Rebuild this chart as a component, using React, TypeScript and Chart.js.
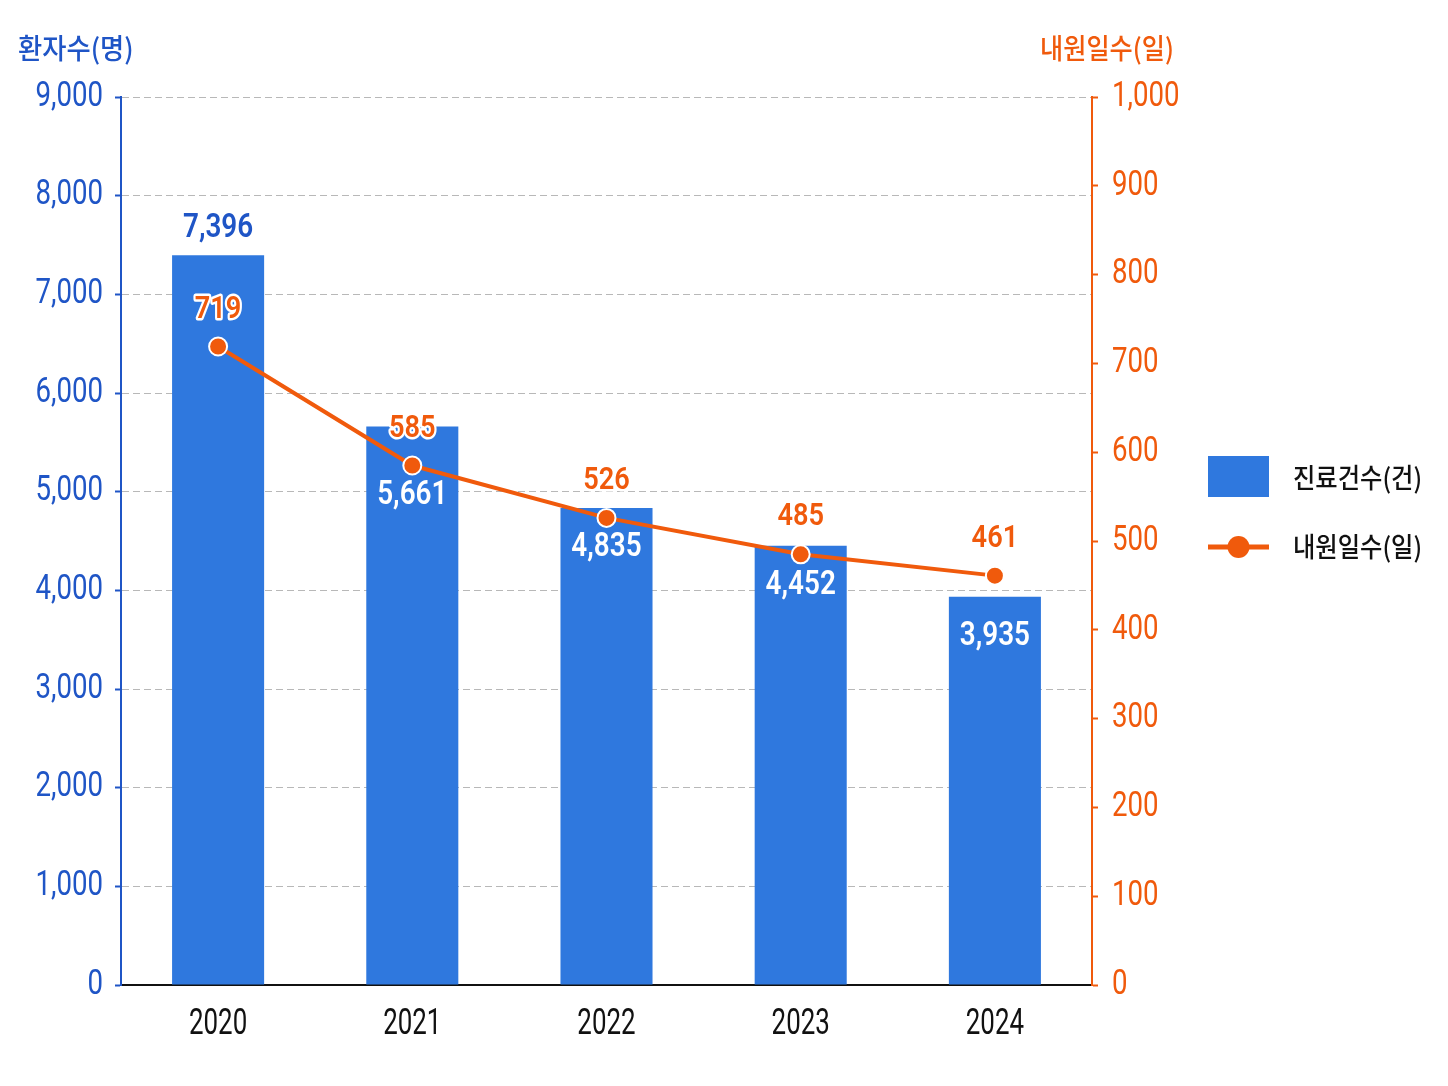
import { useEffect, useRef } from "react";
import Chart from "chart.js/auto";

const years = ["2020", "2021", "2022", "2023", "2024"];
const patientCounts = [7396, 5661, 4835, 4452, 3935];
const visitDays = [719, 585, 526, 485, 461];

const barName = "진료건수(건)";
const lineName = "내원일수(일)";
const leftTitle = "환자수(명)";
const rightTitle = "내원일수(일)";

const BLUE = "#2f78de";
const BLUE_TEXT = "#1f55c6";
const ORANGE = "#f05a0c";
const NUM_FONT = '"Roboto", "Liberation Sans", sans-serif';
const KR_FONT = '"Noto Sans CJK KR", "Noto Sans", sans-serif';

const fmt = (n) => n.toLocaleString("en-US");

// the original uses a condensed face; squeeze Roboto horizontally
function narrowText(ctx, text, x, y, align, sx, stroke) {
  ctx.save();
  ctx.translate(x, y);
  ctx.scale(sx, 1);
  ctx.textAlign = align;
  if (stroke) ctx.strokeText(text, 0, 0);
  ctx.fillText(text, 0, 0);
  ctx.restore();
}

const overlay = {
  id: "overlay",
  afterDatasetsDraw(chart) {
    const ctx = chart.ctx;
    ctx.save();
    ctx.textBaseline = "middle";

    const bars = chart.getDatasetMeta(0).data;
    const pts = chart.getDatasetMeta(1).data;

    // bar value labels
    ctx.font = `600 34px ${NUM_FONT}`;
    bars.forEach((bar, i) => {
      if (i === 0) {
        ctx.fillStyle = BLUE_TEXT;
        narrowText(ctx, fmt(patientCounts[i]), bar.x, bar.y - 27, "center", 0.82);
      } else {
        ctx.fillStyle = "#ffffff";
        const y = Math.max(bar.y + 40, pts[i].y + 30);
        narrowText(ctx, fmt(patientCounts[i]), bar.x, y, "center", 0.82);
      }
    });

    // line value labels
    ctx.font = `600 32px ${NUM_FONT}`;
    ctx.lineJoin = "round";
    ctx.strokeStyle = "#ffffff";
    ctx.lineWidth = 5;
    ctx.fillStyle = ORANGE;
    pts.forEach((p, i) => {
      narrowText(ctx, fmt(visitDays[i]), p.x, p.y - 37, "center", 0.85, true);
    });
    ctx.restore();
  },
  afterDraw(chart) {
    const ctx = chart.ctx;
    const { x, y, y1 } = chart.scales;
    ctx.save();
    ctx.textBaseline = "middle";

    // tick labels
    ctx.font = `400 35px ${NUM_FONT}`;
    ctx.fillStyle = BLUE_TEXT;
    y.ticks.forEach((t, i) => {
      narrowText(ctx, fmt(t.value), y.right - 18, y.getPixelForTick(i), "right", 0.79);
    });
    ctx.fillStyle = ORANGE;
    y1.ticks.forEach((t, i) => {
      narrowText(ctx, fmt(t.value), y1.left + 20, y1.getPixelForTick(i), "left", 0.79);
    });
    ctx.font = `400 36px ${NUM_FONT}`;
    ctx.fillStyle = "#111111";
    x.ticks.forEach((t, i) => {
      narrowText(ctx, years[i], x.getPixelForTick(i), x.top + 40, "center", 0.72);
    });

    // axis titles
    ctx.font = `500 28px ${KR_FONT}`;
    ctx.fillStyle = BLUE_TEXT;
    narrowText(ctx, leftTitle, 18, 48, "left", 0.94);
    ctx.fillStyle = ORANGE;
    narrowText(ctx, rightTitle, 1107, 48, "center", 0.9);

    // legend
    ctx.fillStyle = BLUE;
    ctx.fillRect(1208, 456, 61, 41);
    ctx.strokeStyle = ORANGE;
    ctx.lineWidth = 5;
    ctx.beginPath();
    ctx.moveTo(1208, 547);
    ctx.lineTo(1269, 547);
    ctx.stroke();
    ctx.fillStyle = ORANGE;
    ctx.beginPath();
    ctx.arc(1238.5, 547, 11, 0, Math.PI * 2);
    ctx.fill();

    ctx.font = `500 27px ${KR_FONT}`;
    ctx.fillStyle = "#111111";
    narrowText(ctx, barName, 1293, 478, "left", 0.9);
    narrowText(ctx, lineName, 1293, 547, "left", 0.9);
    ctx.restore();
  },
};

export default function App() {
  const canvasRef = useRef(null);

  useEffect(() => {
    document.body.style.margin = "0";
    const chart = new Chart(canvasRef.current, {
      type: "bar",
      data: {
        labels: years,
        datasets: [
          {
            type: "bar",
            label: barName,
            data: patientCounts,
            backgroundColor: BLUE,
            yAxisID: "y",
            categoryPercentage: 1,
            barPercentage: 0.474,
            order: 2,
          },
          {
            type: "line",
            label: lineName,
            data: visitDays,
            yAxisID: "y1",
            borderColor: ORANGE,
            borderWidth: 4,
            pointRadius: 9,
            pointBackgroundColor: ORANGE,
            pointBorderColor: "#ffffff",
            pointBorderWidth: 2,
            tension: 0,
            order: 1,
          },
        ],
      },
      options: {
        animation: false,
        responsive: false,
        devicePixelRatio: 1,
        layout: { padding: { top: 97, left: 0, right: 0, bottom: 0 } },
        plugins: {
          legend: { display: false },
          tooltip: { enabled: false },
        },
        scales: {
          x: {
            grid: { display: false },
            border: { display: true, color: "#111111", width: 2 },
            ticks: { display: false },
            afterFit: (s) => {
              s.height = 101;
            },
          },
          y: {
            position: "left",
            min: 0,
            max: 9000,
            ticks: { stepSize: 1000, display: false },
            grid: {
              color: "#b8b8b8",
              lineWidth: 1,
              tickColor: BLUE_TEXT,
              tickLength: 6,
              tickWidth: 2,
            },
            border: { color: BLUE_TEXT, width: 2, dash: [7, 4] },
            afterFit: (s) => {
              s.width = 121;
            },
          },
          y1: {
            position: "right",
            min: 0,
            max: 1000,
            ticks: { stepSize: 100, display: false },
            grid: {
              drawOnChartArea: false,
              tickColor: ORANGE,
              tickLength: 6,
              tickWidth: 2,
            },
            border: { color: ORANGE, width: 2 },
            afterFit: (s) => {
              s.width = 356;
            },
          },
        },
      },
      plugins: [overlay],
    });
    return () => chart.destroy();
  }, []);

  return (
    <div style={{ width: 1448, height: 1086, background: "#ffffff" }}>
      <canvas ref={canvasRef} width={1448} height={1086}></canvas>
    </div>
  );
}
